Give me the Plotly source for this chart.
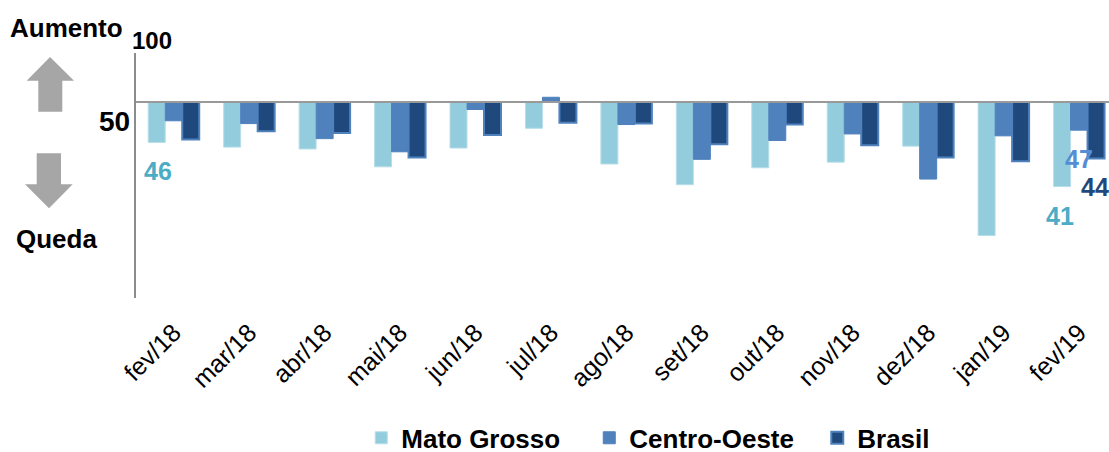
import plotly.graph_objects as go

categories = ["fev/18", "mar/18", "abr/18", "mai/18", "jun/18", "jul/18", "ago/18",
              "set/18", "out/18", "nov/18", "dez/18", "jan/19", "fev/19"]
mato_grosso = [45.7, 45.2, 45.0, 43.1, 45.1, 47.2, 43.4, 41.2, 43.0, 43.6, 45.3, 35.8, 41.0]
centro_oeste = [48.0, 47.7, 46.1, 44.7, 49.2, 50.5, 47.6, 43.9, 45.9, 46.6, 41.8, 46.4, 47.0]
brasil = [46.0, 46.9, 46.7, 44.1, 46.5, 47.8, 47.7, 45.5, 47.6, 45.4, 44.1, 43.7, 44.0]
baseline = 50

W, H = 1109, 452
L, R, T, B = 136, 0, 53, 154
PW, PH = W - L - R, H - T - B

def px(x):
    return (x - L) / PW

def py(y):
    return (H - B - y) / PH

FONT = "Liberation Sans, Arial, sans-serif"

fig = go.Figure()
series = [
    ("Mato Grosso", mato_grosso, "#93cddd", "#b7dee8", 1),
    ("Centro-Oeste", centro_oeste, "#4f81bd", "#4f81bd", 1),
    ("Brasil", brasil, "#1f497d", "#4f81bd", 2),
]
for name, vals, color, lc, lw in series:
    fig.add_trace(go.Bar(
        name=name, x=categories, y=[v - baseline for v in vals], base=baseline,
        marker=dict(color=color, line=dict(color=lc, width=lw)),
        customdata=vals, hovertemplate="%{x}: %{customdata}<extra>" + name + "</extra>",
    ))

# value labels
labels = [
    ("fev/18", mato_grosso[0], "46", "#4bacc6", -16),
    ("fev/19", mato_grosso[-1], "41", "#4bacc6", -19),
    ("fev/19", centro_oeste[-1], "47", "#558ed5", 0),
    ("fev/19", brasil[-1], "44", "#1f497d", 16),
]
for cat, val, txt, col, xs in labels:
    fig.add_annotation(x=cat, y=val, text="<b>%s</b>" % txt, showarrow=False,
                       xshift=xs, yshift=-29, yanchor="middle",
                       font=dict(family=FONT, size=25, color=col))

# side texts
for txt, cx, cy, size in [("Aumento", 66, 28, 26), ("Queda", 56, 239, 26),
                          ("100", 152, 40, 24), ("50", 114, 121, 28)]:
    fig.add_annotation(xref="paper", yref="paper", x=px(cx), y=py(cy),
                       text="<b>%s</b>" % txt, showarrow=False,
                       xanchor="center", yanchor="middle",
                       font=dict(family=FONT, size=size, color="#000000"))

# arrows (decorative)
def path(points):
    return "M " + " L ".join("%f,%f" % (px(x), py(y)) for x, y in points) + " Z"

up = [(50, 57), (74, 80.7), (62.3, 80.7), (62.3, 111.7), (38.3, 111.7), (38.3, 80.7), (26.7, 80.7)]
down = [(49, 208.3), (72.7, 184.3), (61, 184.3), (61, 153.3), (36.7, 153.3), (36.7, 184.3), (25, 184.3)]
for pts in (up, down):
    fig.add_shape(type="path", xref="paper", yref="paper", path=path(pts),
                  fillcolor="#a6a6a6", line=dict(width=0), layer="above")

# baseline line at 50
fig.add_shape(type="line", xref="paper", yref="y", x0=0, x1=1, y0=baseline, y1=baseline,
              line=dict(color="#999999", width=2), layer="above")

fig.update_layout(
    width=W, height=H,
    margin=dict(l=L, r=R, t=T, b=B, autoexpand=False),
    paper_bgcolor="white", plot_bgcolor="white",
    barmode="group", bargap=0.324, bargroupgap=0,
    font=dict(family=FONT, color="#000000"),
    showlegend=True,
    legend=dict(orientation="h", x=0.583, xanchor="center", y=-0.475, yanchor="top",
                font=dict(family=FONT, size=26, color="#000000", weight="bold"),
                entrywidth=183, entrywidthmode="pixels",
                traceorder="normal"),
    xaxis=dict(range=[-0.5, 12.397], showgrid=False, zeroline=False, showline=False,
               ticks="", tickangle=-45, ticklabelstandoff=14, automargin=False,
               tickfont=dict(family=FONT, size=25, color="#000000")),
    yaxis=dict(range=[29.15, 55.21], showgrid=False, zeroline=False, showticklabels=False,
               ticks="", showline=True, linecolor="#8c8c8c", linewidth=1.5, automargin=False),
)

fig.write_html("out.html", config={"displayModeBar": False},
               post_script="document.body.style.margin='0px';document.body.style.overflow='hidden';")
